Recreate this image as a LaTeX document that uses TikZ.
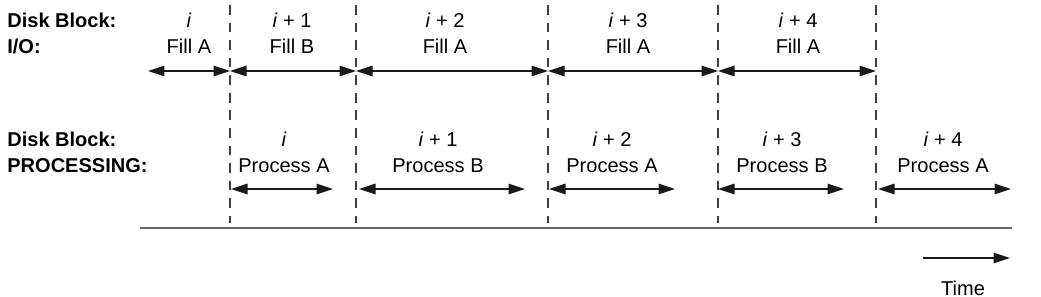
\documentclass[tikz,border=0pt]{standalone}
\usepackage{fontspec}
\setmainfont{Liberation Sans}
\usetikzlibrary{arrows.meta,positioning}

\begin{document}
\begin{tikzpicture}[
  x=0.02cm, y=-0.02cm,
  lbl/.style={font=\fontsize{11.4}{13.5}\selectfont, inner sep=0pt, anchor=base},
  rowlbl/.style={font=\fontsize{11.4}{13.5}\selectfont\bfseries,
    inner sep=0pt, anchor=base west},
  span/.style={{Triangle[length=3.3mm,width=2.1mm]}-{Triangle[length=3.3mm,width=2.1mm]},
    draw=black!90, line width=0.9pt},
  slot/.style={draw=black!75, line width=0.7pt, dash pattern=on 5.5pt off 4.5pt},
  axis/.style={draw=black!60, line width=1pt}
]
\useasboundingbox (0,0) rectangle (1041,297);

% row labels
\node[rowlbl] (io-a) at (7,28) {Disk Block:};
\node[rowlbl] (io-b) at (7,54) {I/O:};
\node[rowlbl] (pr-a) at (7,147) {Disk Block:};
\node[rowlbl] (pr-b) at (7,173) {PROCESSING:};

% block boundaries
\foreach \bx [count=\k] in {230,356,548,718,876} {
  \coordinate (top\k) at (\bx,5);
  \coordinate (bot\k) at (\bx,223);
  \draw[slot] (top\k) -- (bot\k);
}

% I/O row
\coordinate (io0) at (148,71);
\coordinate (io1) at (230,71);
\coordinate (io2) at (356,71);
\coordinate (io3) at (548,71);
\coordinate (io4) at (718,71);
\coordinate (io5) at (876,71);
\draw[span] (io0) -- (io1);
\draw[span] (io1) -- (io2);
\draw[span] (io2) -- (io3);
\draw[span] (io3) -- (io4);
\draw[span] (io4) -- (io5);
\node[lbl] (ioblk1) at (189,28) {\textit{i}};
\node[lbl] (iofill1) at (189,54) {Fill A};
\node[lbl] (ioblk2) at (292,28) {\textit{i} + 1};
\node[lbl] (iofill2) at (292,54) {Fill B};
\node[lbl] (ioblk3) at (445,28) {\textit{i} + 2};
\node[lbl] (iofill3) at (445,54) {Fill A};
\node[lbl] (ioblk4) at (628,28) {\textit{i} + 3};
\node[lbl] (iofill4) at (628,54) {Fill A};
\node[lbl] (ioblk5) at (798,28) {\textit{i} + 4};
\node[lbl] (iofill5) at (798,54) {Fill A};

% processing row
\coordinate (pr1a) at (231,189); \coordinate (pr1b) at (333,189);
\coordinate (pr2a) at (359,189); \coordinate (pr2b) at (525,189);
\coordinate (pr3a) at (549,189); \coordinate (pr3b) at (675,189);
\coordinate (pr4a) at (718,189); \coordinate (pr4b) at (844,189);
\coordinate (pr5a) at (878,189); \coordinate (pr5b) at (1011,189);
\draw[span] (pr1a) -- (pr1b);
\draw[span] (pr2a) -- (pr2b);
\draw[span] (pr3a) -- (pr3b);
\draw[span] (pr4a) -- (pr4b);
\draw[span] (pr5a) -- (pr5b);
\node[lbl] (prblk1) at (284,147) {\textit{i}};
\node[lbl] (prproc1) at (284,173) {Process A};
\node[lbl] (prblk2) at (438,147) {\textit{i} + 1};
\node[lbl] (prproc2) at (438,173) {Process B};
\node[lbl] (prblk3) at (612,147) {\textit{i} + 2};
\node[lbl] (prproc3) at (612,173) {Process A};
\node[lbl] (prblk4) at (782,147) {\textit{i} + 3};
\node[lbl] (prproc4) at (782,173) {Process B};
\node[lbl] (prblk5) at (943,147) {\textit{i} + 4};
\node[lbl] (prproc5) at (943,173) {Process A};

% time axis
\coordinate (ax0) at (140,228);
\coordinate (ax1) at (1012,228);
\draw[axis] (ax0) -- (ax1);
\coordinate (tm0) at (923,258);
\coordinate (tm1) at (1010,258);
\draw[-{Triangle[length=3.3mm,width=2.1mm]}, draw=black!90, line width=0.9pt] (tm0) -- (tm1);
\node[lbl] (time) at (963,295) {Time};
\end{tikzpicture}
\end{document}
